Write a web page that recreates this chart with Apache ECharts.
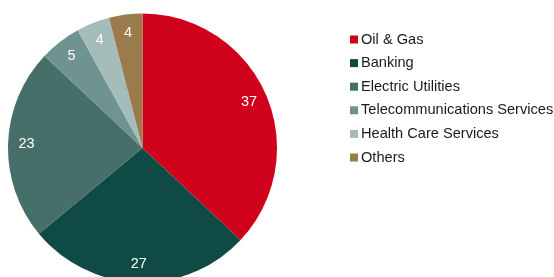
<!DOCTYPE html>
<html><head><meta charset="utf-8">
<script src="https://cdn.jsdelivr.net/npm/echarts@6/dist/echarts.min.js"></script>
<style>html,body{margin:0;padding:0;background:#fff}#c{width:554px;height:277px}</style>
</head><body><div id="c"></div>
<script>
const categories = ["Oil & Gas","Banking","Electric Utilities","Telecommunications Services","Health Care Services","Others"];
const values = [37, 27, 23, 5, 4, 4];
const colors = ["#d0021b","#0f4a45","#466f6a","#6f9390","#a5bdba","#9b7b4c"];

const data = categories.map((n,i)=>({name:n, value:values[i]}));
const chart = echarts.init(document.getElementById('c'), null, {renderer:'canvas'});
const R = 134.5;
chart.setOption({
  animation:false,
  color: colors,
  legend:{
    orient:'vertical', left:345, top:27,
    data: categories,
    icon:'rect', itemWidth:8, itemHeight:8, itemGap:8.6,
    textStyle:{fontFamily:'Liberation Sans, Arial', fontSize:14.6, color:'#1a1a1a', padding:[0,0,0,-2]},
    selectedMode:false
  },
  series:[
    {type:'pie', center:[142.5,148], radius:[0,R], startAngle:90, clockwise:true,
     data:data, label:{show:false}, labelLine:{show:false}, silent:true,
     itemStyle:{borderWidth:0}},
    {type:'pie', center:[142.5,148], radius:[R*0.68,R], startAngle:90, clockwise:true,
     data:data, silent:true, itemStyle:{color:'transparent'},
     label:{show:true, position:'inside', color:'#fff', fontFamily:'Liberation Sans, Arial', fontSize:14.5, formatter:'{c}'},
     labelLine:{show:false}, legendHoverLink:false}
  ]
});
</script></body></html>
